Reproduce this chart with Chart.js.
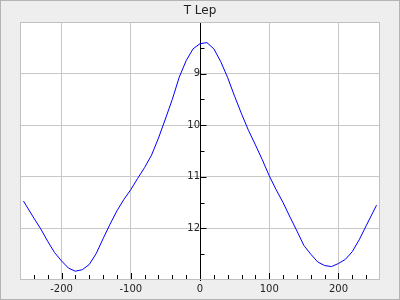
<!DOCTYPE html>
<html>
<head>
<meta charset="utf-8">
<script src="https://cdn.jsdelivr.net/npm/chart.js@4/dist/chart.umd.min.js"></script>
<style>
  html, body { margin: 0; padding: 0; background: #eeeeee; }
  #wrap { width: 400px; height: 300px; }
</style>
</head>
<body>
<div id="wrap"><canvas id="c" width="400" height="300"></canvas></div>
<script>
// phase / time values
const phase = [-255, -240, -230, -220, -210, -200, -190, -180, -170, -160, -150, -140, -130, -120, -110,
  -100, -90, -80, -70, -60, -50, -40, -30, -20, -10, 0, 10, 20, 30, 40, 50, 60, 70, 80, 90,
  100, 110, 120, 130, 140, 150, 160, 170, 180, 190, 200, 210, 220, 230, 240, 255];
// magnitudes
const mag = [11.47, 11.80, 12.01, 12.25, 12.47, 12.63, 12.77, 12.83, 12.80, 12.70, 12.49, 12.20, 11.92, 11.66, 11.44,
  11.25, 11.03, 10.82, 10.58, 10.25, 9.88, 9.50, 9.07, 8.75, 8.52, 8.42, 8.40, 8.52, 8.77, 9.08, 9.44, 9.78, 10.10, 10.38, 10.67,
  10.98, 11.25, 11.50, 11.78, 12.05, 12.33, 12.50, 12.65, 12.72, 12.74, 12.68, 12.60, 12.45, 12.22, 11.95, 11.55];
const xTicks = [-200, -100, 0, 100, 200];
const yTicks = [9, 10, 11, 12];
const title = "T Lep";

const points = phase.map((p, i) => ({ x: p, y: mag[i] }));

const frame = {
  id: "frame",
  beforeDraw(chart) {
    const ctx = chart.ctx, a = chart.chartArea;
    ctx.save();
    ctx.fillStyle = "#eeeeee";
    ctx.fillRect(0, 0, chart.width, chart.height);
    ctx.strokeStyle = "#b4b4b4";
    ctx.lineWidth = 1;
    ctx.strokeRect(0.5, 0.5, chart.width - 1, chart.height - 1);
    ctx.fillStyle = "#ffffff";
    ctx.fillRect(a.left, a.top, a.right - a.left, a.bottom - a.top);
    ctx.restore();
  },
  afterDraw(chart) {
    const ctx = chart.ctx, a = chart.chartArea;
    const xs = chart.scales.x, ys = chart.scales.y;
    ctx.save();
    ctx.strokeStyle = "#c0c0c0";
    ctx.lineWidth = 1;
    ctx.strokeRect(a.left + 0.5, a.top + 0.5, a.right - a.left - 1, a.bottom - a.top - 1);
    ctx.strokeStyle = "#000000";
    ctx.beginPath();
    // bottom ticks every 20
    for (let v = -260; v <= 260; v += 20) {
      const px = Math.round(xs.getPixelForValue(v)) + 0.5;
      if (px < a.left + 1 || px > a.right - 1) continue;
      const len = v % 100 === 0 ? 6 : 4;
      ctx.moveTo(px, a.bottom - 1);
      ctx.lineTo(px, a.bottom - 1 - len);
    }
    // y axis ticks on the right side of the zero line
    const x0 = Math.round(xs.getPixelForValue(0)) + 0.5;
    for (let v = 8.5; v < 13; v += 0.5) {
      const py = Math.round(ys.getPixelForValue(v)) + 0.5;
      const len = v % 1 === 0 ? 6 : 4;
      ctx.moveTo(x0, py);
      ctx.lineTo(x0 + len, py);
    }
    ctx.stroke();
    ctx.restore();
  }
};

new Chart(document.getElementById("c"), {
  type: "scatter",
  data: {
    datasets: [{
      data: points,
      showLine: true,
      borderColor: "#0000ff",
      borderWidth: 1,
      pointRadius: 0,
      tension: 0
    }]
  },
  options: {
    responsive: false,
    animation: false,
    layout: { padding: { left: 20, right: 20, top: 0, bottom: 0 } },
    plugins: {
      legend: { display: false },
      tooltip: { enabled: false },
      title: {
        display: true,
        text: title,
        color: "#222222",
        font: { family: "DejaVu Sans", size: 12, weight: "normal" },
        padding: { top: 4, bottom: 3.6 }
      }
    },
    scales: {
      x: {
        type: "linear",
        min: -260,
        max: 260,
        afterBuildTicks: (s) => { s.ticks = xTicks.map(v => ({ value: v })); },
        afterFit: (s) => { s.height = 20; },
        grid: { color: "#c8c8c8", drawTicks: false },
        border: { display: false },
        ticks: {
          padding: 3,
          color: "#222222",
          font: { family: "DejaVu Sans", size: 10 }
        }
      },
      y: {
        type: "linear",
        reverse: true,
        min: 8,
        max: 13,
        position: { x: 0 },
        afterBuildTicks: (s) => { s.ticks = yTicks.map(v => ({ value: v })); },
        grid: { color: "#c8c8c8", drawTicks: false },
        border: { display: true, color: "#000000", width: 1 },
        ticks: {
          padding: 8,
          color: "#222222",
          font: { family: "DejaVu Sans", size: 10 }
        }
      }
    }
  },
  plugins: [frame]
});
</script>
</body>
</html>
